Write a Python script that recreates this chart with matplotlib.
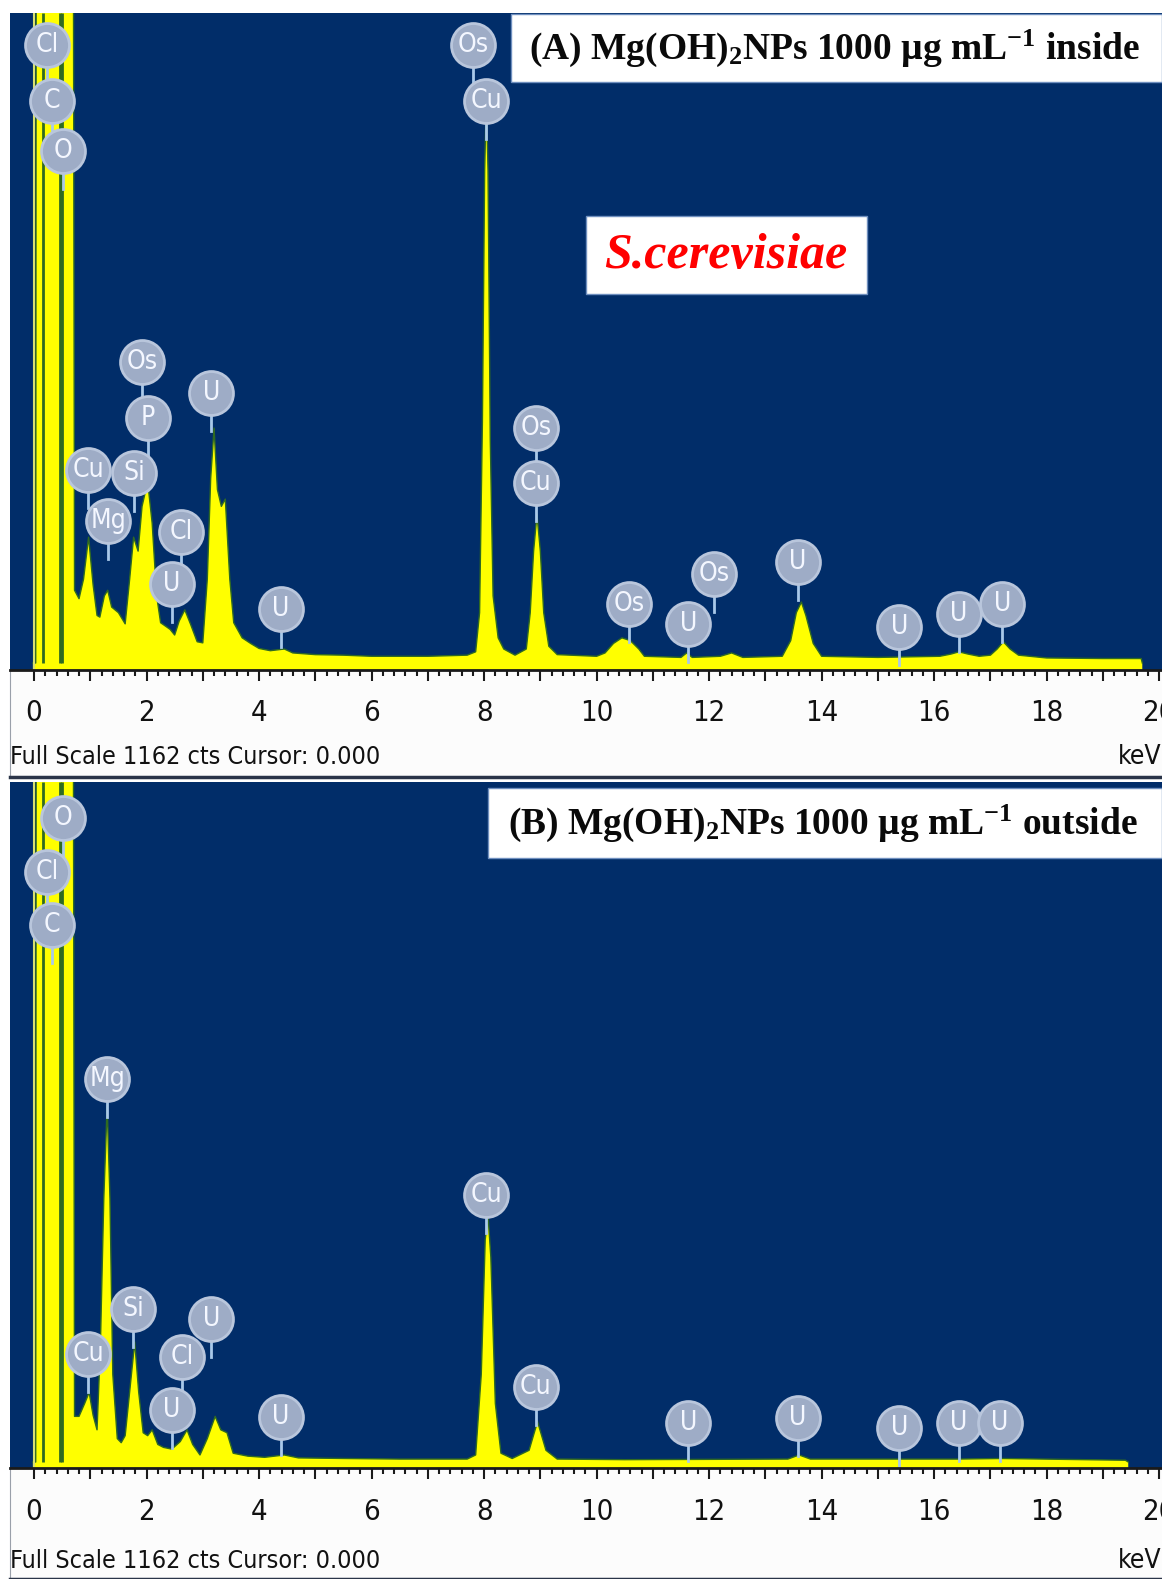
import matplotlib.pyplot as plt
from matplotlib.patches import Rectangle

plt.rcParams['mathtext.fontset'] = 'custom'
plt.rcParams['mathtext.rm'] = 'Liberation Serif:bold'
plt.rcParams['mathtext.bf'] = 'Liberation Serif:bold'
plt.rcParams['mathtext.it'] = 'Liberation Serif:bold:italic'

W, H = 1162, 1579
NAVY = '#012d69'
YELLOW = '#ffff00'
EDGE = '#2f6a22'
BADGE = '#9eacc6'
STEM = '#a9c9ea'
NARROW = ['Liberation Sans Narrow', 'DejaVu Sans']
FULL_SCALE = 1162

# ---- spectrum (A): inside, outline points (keV, counts)
a_kev = [-0.02, 0.03, 0.05, 0.67, 0.72, 0.80, 0.88, 0.97, 1.05, 1.12, 1.17, 1.25, 1.31,
         1.38, 1.50, 1.62, 1.70, 1.77, 1.85, 1.92, 2.02, 2.10, 2.18, 2.25, 2.35, 2.42,
         2.50, 2.58, 2.68, 2.78, 2.90, 3.00, 3.08, 3.14, 3.20, 3.26, 3.33, 3.40, 3.48,
         3.55, 3.70, 3.85, 4.00, 4.20, 4.45, 4.60, 5.00, 5.50, 6.00, 7.00, 7.70, 7.85,
         7.92, 7.97, 8.01, 8.04, 8.07, 8.11, 8.16, 8.25, 8.35, 8.55, 8.75, 8.82, 8.88,
         8.94, 9.00, 9.06, 9.15, 9.30, 10.00, 10.15, 10.30, 10.45, 10.60, 10.75, 10.85,
         11.50, 11.60, 11.70, 12.20, 12.40, 12.60, 13.30, 13.45, 13.55, 13.64, 13.72,
         13.85, 14.00, 15.00, 16.10, 16.30, 16.44, 16.60, 16.80, 17.00, 17.12, 17.23,
         17.35, 17.50, 18.00, 19.00, 19.68, 19.70]
a_cts = [0, 0, 3000, 3000, 130, 115, 150, 225, 140, 85, 82, 120, 130,
         100, 90, 70, 150, 225, 200, 280, 324, 250, 120, 72, 65, 60,
         50, 75, 95, 70, 38, 36, 150, 330, 420, 310, 280, 293, 150,
         72, 45, 35, 26, 22, 25, 18, 15, 14, 12, 12, 14, 20,
         90, 430, 880, 1010, 880, 400, 120, 45, 25, 14, 25, 90, 200,
         266, 200, 90, 30, 15, 12, 18, 35, 45, 40, 25, 12,
         10, 18, 10, 12, 18, 10, 12, 40, 90, 109, 85,
         35, 12, 10, 12, 16, 20, 16, 12, 14, 25, 38,
         25, 14, 9, 8, 8, 0]
a_edges = [0.165, 0.46, 0.49]
a_tags = ['Cl', 'C', 'O', 'Os', 'Cu', 'Os', 'P', 'Cu', 'Si', 'Mg', 'Cl', 'U', 'U', 'U',
          'Os', 'Cu', 'Os', 'U', 'Os', 'U', 'U', 'U', 'U']
a_tag_kev = [0.23, 0.32, 0.52, 7.80, 8.04, 1.92, 2.03, 0.96, 1.78, 1.32, 2.61, 2.45, 3.15,
             4.39, 8.92, 8.92, 10.58, 11.63, 12.09, 13.58, 15.38, 16.44, 17.21]
a_tag_cts = [1105, 1005, 915, 1105, 1005, 538, 438, 345, 340, 254, 234, 141, 483,
             97, 420, 322, 105, 70, 159, 181, 64, 88, 105]

# ---- spectrum (B): outside
b_kev = [-0.02, 0.03, 0.05, 0.67, 0.72, 0.80, 0.90, 0.98, 1.05, 1.12, 1.18, 1.24, 1.30,
         1.35, 1.40, 1.48, 1.55, 1.62, 1.70, 1.79, 1.86, 1.94, 2.02, 2.10, 2.20, 2.30,
         2.45, 2.60, 2.72, 2.82, 2.95, 3.08, 3.22, 3.32, 3.43, 3.54, 3.80, 4.10, 4.45,
         4.70, 5.50, 6.50, 7.70, 7.85, 7.95, 8.02, 8.07, 8.12, 8.20, 8.30, 8.50, 8.80,
         8.95, 9.10, 9.30, 10.50, 13.40, 13.60, 13.80, 16.40, 17.20, 19.40, 19.45]
b_cts = [0, 0, 3000, 3000, 78, 78, 100, 119, 80, 55, 200, 450, 610,
         450, 150, 40, 33, 45, 120, 205, 120, 50, 45, 55, 30, 25,
         22, 35, 55, 30, 12, 40, 78, 55, 50, 15, 10, 8, 12,
         7, 6, 5, 5, 12, 150, 380, 422, 350, 100, 15, 6, 20,
         69, 20, 5, 4, 5, 12, 5, 5, 6, 3, 0]
b_edges = [0.165, 0.46, 0.49]
b_tags = ['O', 'Cl', 'C', 'Mg', 'Cu', 'Si', 'U', 'Cu', 'Cl', 'U', 'U', 'Cu', 'U', 'U',
          'U', 'U', 'U']
b_tag_kev = [0.52, 0.23, 0.32, 1.30, 8.04, 1.76, 3.15, 0.96, 2.63, 2.45, 4.39, 8.92,
             11.63, 13.58, 15.38, 16.44, 17.17]
b_tag_cts = [1100, 1008, 917, 654, 457, 262, 245, 185, 180, 89, 77, 128,
             67, 75, 58, 67, 67]

tick_labels = [0, 2, 4, 6, 8, 10, 12, 14, 16, 18, 20]
titles = [r'(A) Mg(OH)$_2$NPs 1000 µg mL$^{-1}$ inside',
          r'(B) Mg(OH)$_2$NPs 1000 µg mL$^{-1}$ outside']

XMIN, XMAX = -0.427, 20.05


def px_rect(x0, y0, x1, y1):
    return [x0 / W, 1 - y1 / H, (x1 - x0) / W, (y1 - y0) / H]


fig = plt.figure(figsize=(W / 100, H / 100), dpi=100, facecolor='white')


def draw_spectrum(top, axis_y, base_y, kev, cts, edges, tags, tag_kev, tag_cts):
    ax = fig.add_axes(px_rect(10, top, W, axis_y))
    ax.set_facecolor(NAVY)
    per_px = FULL_SCALE / (base_y - top)
    ax.set_xlim(XMIN, XMAX)
    ax.set_ylim(-(axis_y - base_y) * per_px, FULL_SCALE)
    ax.fill_between(kev, cts, -50, color=YELLOW, lw=0, zorder=2)
    ax.plot(kev, cts, color=EDGE, lw=1.0, zorder=3)
    ax.vlines(edges, 0, FULL_SCALE, color=EDGE, lw=2, zorder=3)
    ax.axvline(0, color='#d8e070', lw=1.5, zorder=3)
    stem = 38 * per_px
    for t, e, c in zip(tags, tag_kev, tag_cts):
        ax.plot([e, e], [c, c - stem], color=STEM, lw=2, zorder=4)
        ax.scatter([e], [c], s=1000, color=BADGE, edgecolor='#b9c6dc', lw=2, zorder=5)
        ax.text(e, c, t, color='#f4f7ff', fontsize=19, family=NARROW,
                fontstretch='condensed', ha='center', va='center', zorder=6)
    ax.set_xticks([])
    ax.set_yticks([])
    for s in ax.spines.values():
        s.set_visible(False)
    return ax


def draw_strip(top, bottom, label_y, text_y):
    ax = fig.add_axes(px_rect(10, top, W, bottom))
    ax.set_xlim(XMIN, XMAX)
    ax.set_ylim(0, 1)
    ax.set_facecolor('#fcfcfc')
    ax.set_xticks([i for i in range(21)])
    ax.set_xticks([i / 5 for i in range(101)], minor=True)
    ax.tick_params(axis='x', which='both', direction='in', top=True, bottom=False,
                   labeltop=False, labelbottom=False, color='#1a1a1a', width=1.5)
    ax.tick_params(axis='x', which='major', length=8)
    ax.tick_params(axis='x', which='minor', length=4.5)
    ax.set_yticks([])
    for t in tick_labels:
        ax.text(t, label_y, str(t), fontsize=21, family=NARROW, fontstretch='condensed',
                ha='center', va='center', color='#111111', clip_on=False)
    ax.text(XMIN, text_y, 'Full Scale 1162 cts Cursor: 0.000', fontsize=18,
            family=NARROW, fontstretch='condensed', ha='left', va='center',
            color='#111111')
    ax.text(XMAX, text_y, 'keV', fontsize=19, family=NARROW, fontstretch='condensed',
            ha='right', va='center', color='#111111')
    ax.spines['top'].set_linewidth(2)
    ax.spines['top'].set_color('#1a1a1a')
    ax.spines['bottom'].set_linewidth(2.5)
    ax.spines['bottom'].set_color('#2a3448')
    ax.spines['left'].set_color('#9aa0aa')
    ax.spines['right'].set_visible(False)
    return ax


draw_spectrum(13, 670, 663, a_kev, a_cts, a_edges, a_tags, a_tag_kev, a_tag_cts)
draw_strip(670, 777, (777 - 713) / 107, (777 - 757) / 107)
draw_spectrum(782, 1468, 1462, b_kev, b_cts, b_edges, b_tags, b_tag_kev, b_tag_cts)
draw_strip(1468, 1579, (1579 - 1512) / 111, (1579 - 1561) / 111)

# title boxes
for (x0, y0, x1, y1), txt in zip([(511, 14, 1162, 82), (488, 788, 1162, 858)], titles):
    fig.patches.append(Rectangle((x0 / W, 1 - y1 / H), (x1 - x0) / W, (y1 - y0) / H,
                                 transform=fig.transFigure, facecolor='white',
                                 edgecolor='#6f8fbf', lw=1, zorder=10))
    fig.text((x0 + x1) / 2 / W - 0.002, 1 - (y0 + y1) / 2 / H, txt, fontsize=27,
             family='Liberation Serif', weight='bold', ha='center', va='center',
             color='#0a0a0a', zorder=11)

fig.patches.append(Rectangle((586 / W, 1 - 294 / H), 281 / W, 78 / H,
                             transform=fig.transFigure, facecolor='white',
                             edgecolor='#6f8fbf', lw=1, zorder=10))
fig.text(726 / W, 1 - 256 / H, 'S.cerevisiae', fontsize=36, family='Liberation Serif',
         weight='bold', style='italic', color='#ff0000', ha='center', va='center',
         zorder=11)

fig.savefig('out.png', dpi=100, facecolor='white')
